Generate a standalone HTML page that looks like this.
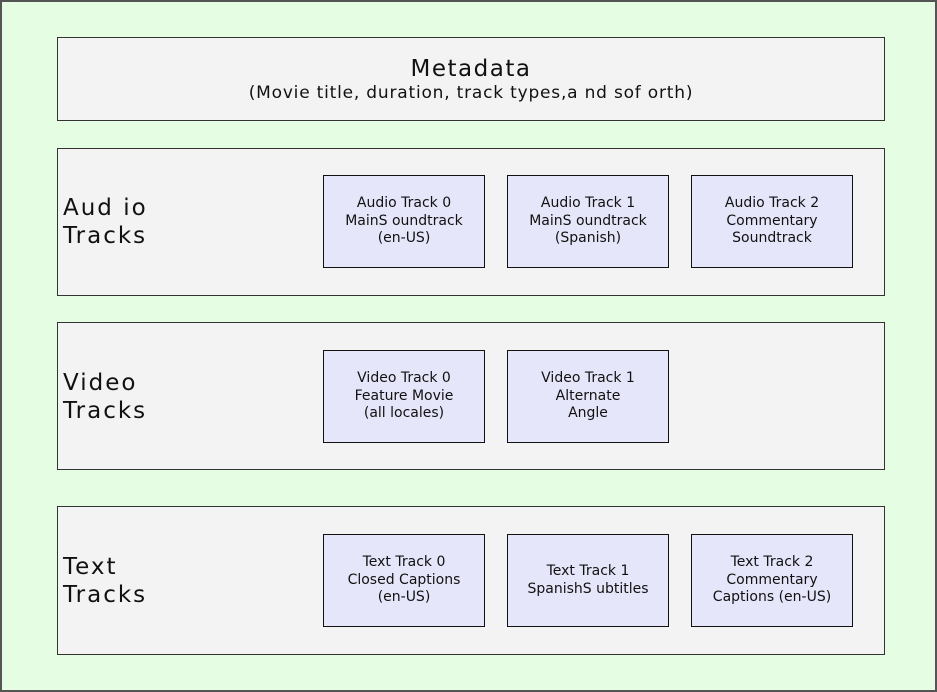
<!DOCTYPE html>
<html><head><style>
body{margin:0;width:937px;height:692px;background:#fff;position:relative;overflow:hidden;font-family:"DejaVu Sans","Liberation Sans",sans-serif;}
.a{position:absolute;box-sizing:border-box;}
.outer{left:0;top:0;width:937px;height:692px;background:#e5fee3;border:2px solid #555;}
.panel{left:57px;width:828px;background:#f3f3f3;border:1.5px solid #333;}
.box{width:162px;height:93px;background:#e6e6fa;border:1.5px solid #111;font-size:14px;line-height:17.5px;text-align:center;display:flex;align-items:center;justify-content:center;color:#111;}
.lbl{left:63px;font-size:23px;line-height:28px;letter-spacing:2px;color:#111;}
</style></head><body>
<div class="a outer"></div>
<div class="a panel" style="top:37px;height:84px;text-align:center;color:#111">
<div style="font-size:23px;letter-spacing:1.5px;margin-top:17px;line-height:28px">Metadata</div>
<div style="font-size:17px;letter-spacing:0.8px;line-height:20px">(Movie title, duration, track types,a nd sof orth)</div>
</div>
<div class="a panel" style="top:148px;height:148px"></div>
<div class="a panel" style="top:322px;height:148px"></div>
<div class="a panel" style="top:506px;height:149px"></div>
<div class="a lbl" style="top:194px">Aud io<br>Tracks</div>
<div class="a lbl" style="top:369px">Video<br>Tracks</div>
<div class="a lbl" style="top:553px">Text<br>Tracks</div>
<div class="a box" style="left:323px;top:175px">Audio Track 0<br>MainS oundtrack<br>(en-US)</div>
<div class="a box" style="left:507px;top:175px">Audio Track 1<br>MainS oundtrack<br>(Spanish)</div>
<div class="a box" style="left:691px;top:175px">Audio Track 2<br>Commentary<br>Soundtrack</div>
<div class="a box" style="left:323px;top:350px">Video Track 0<br>Feature Movie<br>(all locales)</div>
<div class="a box" style="left:507px;top:350px">Video Track 1<br>Alternate<br>Angle</div>
<div class="a box" style="left:323px;top:534px">Text Track 0<br>Closed Captions<br>(en-US)</div>
<div class="a box" style="left:507px;top:534px">Text Track 1<br>SpanishS ubtitles</div>
<div class="a box" style="left:691px;top:534px">Text Track 2<br>Commentary<br>Captions (en-US)</div>
</body></html>
